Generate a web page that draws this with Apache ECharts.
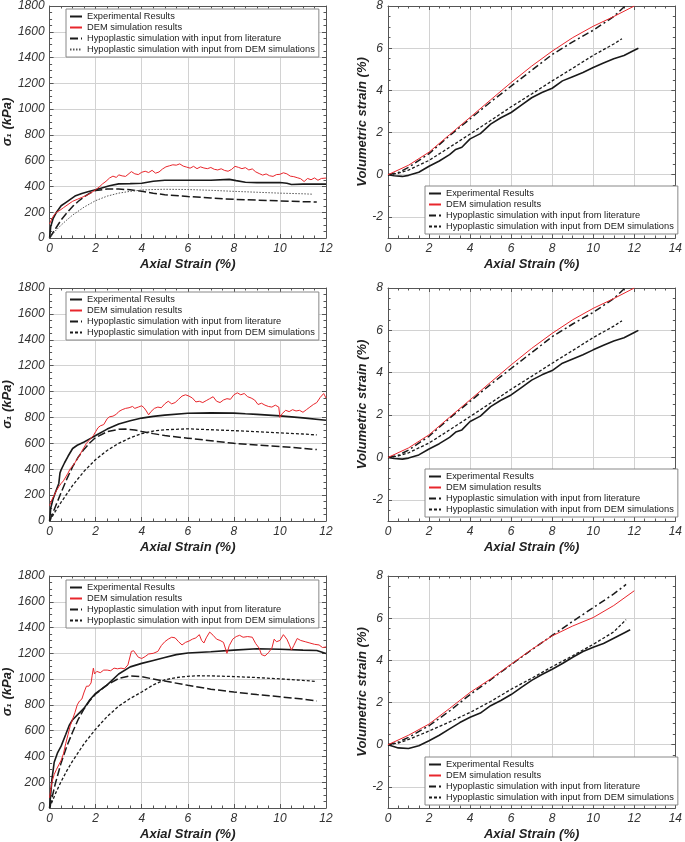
<!DOCTYPE html>
<html><head><meta charset="utf-8">
<script src="https://cdn.jsdelivr.net/npm/echarts@6/dist/echarts.min.js"></script>
<style>html,body{margin:0;padding:0;background:#fff}#c{width:685px;height:842px}</style>
</head><body><div id="c"></div>
<script>
// ---------- tick labels ----------
const sigmaTicks = [0,200,400,600,800,1000,1200,1400,1600,1800];
const volTicks = [-2,0,2,4,6,8];
const legendNames = ['Experimental Results','DEM simulation results','Hypoplastic simulation with input from literature','Hypoplastic simulation with input from DEM simulations'];

// ---------- Row 1: sigma1 vs axial strain ----------
const exp1 = [[0,0],[0.05,90],[0.15,150],[0.3,200],[0.5,250],[0.7,275],[0.9,300],[1.1,325],[1.4,345],[1.7,360],[2.0,375],[2.3,390],[2.6,405],[3.0,420],[3.5,422],[4.0,425],[4.5,440],[5.0,448],[6.0,448],[7.0,448],[7.8,455],[8.1,445],[8.5,432],[9.0,430],[10.0,430],[10.3,425],[10.5,415],[11.0,418],[12.0,418]];
const dem1 = [[0,110],[0.1,150],[0.2,180],[0.3,200],[0.45,215],[0.6,235],[0.8,260],[1.0,285],[1.2,300],[1.4,315],[1.6,330],[1.8,350],[2.0,375],[2.15,395],[2.3,420],[2.45,440],[2.6,465],[2.75,480],[2.9,470],[3.0,490],[3.15,482],[3.3,478],[3.45,500],[3.55,515],[3.7,498],[3.85,492],[4.0,510],[4.15,518],[4.3,508],[4.45,525],[4.6,503],[4.75,512],[4.9,535],[5.05,552],[5.2,560],[5.35,568],[5.5,565],[5.65,575],[5.8,558],[5.95,550],[6.1,542],[6.25,556],[6.4,538],[6.55,552],[6.7,543],[6.85,538],[7.0,547],[7.15,533],[7.3,528],[7.45,537],[7.6,524],[7.75,518],[7.9,532],[8.05,556],[8.2,548],[8.35,538],[8.5,546],[8.65,528],[8.8,536],[8.95,513],[9.1,500],[9.25,488],[9.4,497],[9.55,483],[9.7,478],[9.85,492],[10.0,494],[10.15,506],[10.3,498],[10.45,480],[10.6,476],[10.75,468],[10.9,460],[11.05,438],[11.2,462],[11.35,452],[11.5,466],[11.65,448],[11.8,462],[12.0,465]];
const lit1 = [[0,0],[0.25,70],[0.5,140],[0.75,195],[1.0,245],[1.25,285],[1.5,320],[1.75,348],[2.0,368],[2.5,380],[3.0,380],[3.5,374],[4.0,363],[4.5,348],[5.0,336],[6.0,322],[7.0,310],[8.0,300],[9.0,294],[10.0,288],[11.0,282],[11.6,279]];
const din1 = [[0,0],[0.25,55],[0.5,100],[0.75,140],[1.0,178],[1.5,240],[2.0,290],[2.5,325],[3.0,348],[3.5,362],[4.0,372],[4.5,376],[5.0,378],[6.0,376],[7.0,370],[8.0,362],[9.0,355],[10.0,348],[11.0,343],[11.4,340]];

// ---------- Row 1: volumetric strain ----------
const vExp1 = [[0,0],[0.3,-0.05],[0.7,-0.08],[1.0,-0.03],[1.5,0.12],[2.0,0.4],[2.5,0.65],[3.0,0.95],[3.3,1.2],[3.6,1.3],[4.0,1.7],[4.5,1.95],[5.0,2.4],[5.5,2.7],[6.0,2.95],[6.5,3.3],[7.0,3.65],[7.5,3.9],[8.0,4.1],[8.5,4.45],[9.0,4.65],[9.5,4.85],[10.0,5.08],[10.5,5.3],[11.0,5.5],[11.5,5.65],[12.0,5.9],[12.2,6.0]];
const vDem1 = [[0,0],[1.0,0.45],[2.0,1.07],[3.0,1.9],[4.0,2.72],[5.0,3.55],[6.0,4.37],[7.0,5.15],[8.0,5.86],[9.0,6.5],[10.0,7.04],[11.0,7.5],[12.0,8.0]];
const vLit1 = [[0,0],[0.5,0.1],[1.0,0.35],[2.0,1.0],[3.0,1.85],[4.0,2.65],[5.0,3.45],[6.0,4.2],[7.0,4.95],[8.0,5.7],[9.0,6.3],[10.0,6.85],[11.0,7.5],[11.55,8.0]];
const vDin1 = [[0,0],[0.5,0.07],[1.0,0.22],[2.0,0.68],[3.0,1.3],[4.0,1.93],[5.0,2.57],[6.0,3.22],[7.0,3.83],[8.0,4.45],[9.0,5.05],[10.0,5.66],[11.0,6.2],[11.4,6.45]];

// ---------- Row 2: sigma1 ----------
const exp2 = [[0,0],[0.05,100],[0.15,170],[0.25,220],[0.4,290],[0.45,370],[0.5,395],[0.65,450],[0.8,500],[1.0,560],[1.2,585],[1.5,610],[1.8,640],[2.0,660],[2.5,710],[3.0,750],[3.5,775],[4.0,795],[4.5,808],[5.0,818],[6.0,832],[7.0,835],[8.0,833],[8.5,828],[9.0,824],[10.0,812],[11.0,797],[12.0,778]];
const dem2 = [[0,120],[0.1,165],[0.2,200],[0.3,235],[0.4,265],[0.5,290],[0.6,310],[0.7,340],[0.8,370],[0.9,405],[1.0,425],[1.1,450],[1.2,480],[1.3,505],[1.4,540],[1.5,570],[1.6,600],[1.7,620],[1.8,640],[1.9,660],[2.0,690],[2.1,720],[2.2,735],[2.35,745],[2.5,790],[2.6,805],[2.75,810],[2.9,825],[3.0,845],[3.15,860],[3.3,870],[3.45,875],[3.6,885],[3.7,870],[3.85,880],[4.0,890],[4.1,875],[4.2,850],[4.3,820],[4.4,845],[4.55,870],[4.7,880],[4.85,875],[5.0,905],[5.15,925],[5.3,905],[5.45,915],[5.6,940],[5.75,965],[5.9,975],[6.05,965],[6.2,950],[6.35,920],[6.5,925],[6.65,915],[6.8,930],[6.95,945],[7.1,960],[7.25,925],[7.4,915],[7.55,935],[7.7,945],[7.85,940],[8.0,975],[8.15,990],[8.3,975],[8.45,985],[8.6,960],[8.75,950],[8.9,935],[9.05,900],[9.2,910],[9.35,895],[9.5,885],[9.65,880],[9.8,895],[9.95,880],[10.0,800],[10.1,830],[10.25,855],[10.4,845],[10.55,860],[10.7,850],[10.85,855],[11.0,840],[11.15,860],[11.3,880],[11.45,900],[11.6,915],[11.75,955],[11.9,985],[12.0,950]];
const lit2 = [[0,0],[0.25,110],[0.5,220],[0.75,325],[1.0,420],[1.25,495],[1.5,555],[1.75,605],[2.0,645],[2.5,690],[3.0,708],[3.3,710],[3.7,703],[4.0,692],[4.5,675],[5.0,660],[6.0,640],[7.0,620],[8.0,600],[9.0,587],[10.0,575],[11.0,562],[11.6,552]];
const din2 = [[0,0],[0.25,75],[0.5,145],[0.75,210],[1.0,275],[1.5,385],[2.0,475],[2.5,545],[3.0,600],[3.5,642],[4.0,675],[4.5,695],[5.0,705],[6.0,712],[7.0,705],[8.0,698],[9.0,690],[10.0,681],[11.0,672],[11.6,665]];

// ---------- Row 2: volumetric strain ----------
const vExp2 = [[0,0],[0.3,-0.05],[0.7,-0.08],[1.0,-0.03],[1.5,0.12],[2.0,0.4],[2.5,0.65],[3.0,0.95],[3.3,1.2],[3.6,1.3],[4.0,1.7],[4.5,1.95],[5.0,2.4],[5.5,2.7],[6.0,2.95],[6.5,3.3],[7.0,3.65],[7.5,3.9],[8.0,4.1],[8.5,4.45],[9.0,4.65],[9.5,4.85],[10.0,5.08],[10.5,5.3],[11.0,5.5],[11.5,5.65],[12.0,5.9],[12.2,6.0]];
const vDem2 = [[0,0],[1.0,0.45],[2.0,1.07],[3.0,1.9],[4.0,2.72],[5.0,3.55],[6.0,4.37],[7.0,5.15],[8.0,5.86],[9.0,6.5],[10.0,7.04],[11.0,7.5],[12.0,8.0]];
const vLit2 = [[0,0],[0.5,0.1],[1.0,0.35],[2.0,1.0],[3.0,1.85],[4.0,2.65],[5.0,3.45],[6.0,4.2],[7.0,4.95],[8.0,5.7],[9.0,6.3],[10.0,6.85],[11.0,7.5],[11.55,8.0]];
const vDin2 = [[0,0],[0.5,0.07],[1.0,0.22],[2.0,0.68],[3.0,1.3],[4.0,1.93],[5.0,2.57],[6.0,3.22],[7.0,3.83],[8.0,4.45],[9.0,5.05],[10.0,5.66],[11.0,6.2],[11.4,6.45]];

// ---------- Row 3: sigma1 ----------
const exp3 = [[0,0],[0.1,220],[0.2,355],[0.35,430],[0.5,480],[0.7,570],[0.85,640],[1.0,685],[1.25,730],[1.5,775],[1.75,840],[2.0,890],[2.5,955],[3.0,1040],[3.5,1095],[4.0,1122],[4.5,1145],[5.0,1168],[5.5,1190],[6.0,1203],[7.0,1212],[8.0,1225],[9.0,1235],[10.0,1232],[11.0,1225],[11.6,1222],[12.0,1198]];
const dem3 = [[0,80],[0.1,200],[0.2,260],[0.3,300],[0.4,335],[0.5,370],[0.6,420],[0.7,500],[0.8,570],[0.9,640],[1.0,690],[1.1,740],[1.2,800],[1.3,830],[1.4,845],[1.5,900],[1.6,945],[1.7,945],[1.8,970],[1.85,1030],[1.9,1085],[1.95,1040],[2.05,1060],[2.2,1050],[2.35,1070],[2.5,1070],[2.65,1065],[2.8,1085],[2.95,1080],[3.1,1085],[3.25,1080],[3.4,1110],[3.55,1215],[3.65,1220],[3.75,1195],[3.85,1170],[4.0,1160],[4.15,1175],[4.3,1195],[4.5,1200],[4.7,1215],[4.85,1260],[5.0,1290],[5.15,1310],[5.3,1325],[5.45,1320],[5.6,1290],[5.75,1265],[5.9,1285],[6.05,1295],[6.2,1310],[6.35,1320],[6.5,1345],[6.6,1300],[6.7,1280],[6.8,1320],[6.95,1365],[7.1,1340],[7.25,1310],[7.4,1300],[7.55,1285],[7.7,1200],[7.8,1260],[7.95,1310],[8.1,1330],[8.25,1340],[8.4,1325],[8.6,1330],[8.8,1325],[8.95,1275],[9.1,1240],[9.2,1190],[9.35,1180],[9.5,1205],[9.65,1240],[9.75,1310],[9.85,1290],[10.0,1300],[10.15,1345],[10.3,1310],[10.4,1270],[10.5,1225],[10.6,1260],[10.75,1315],[10.9,1300],[11.1,1290],[11.3,1280],[11.5,1270],[11.7,1265],[11.85,1245],[12.0,1250]];
const lit3 = [[0,0],[0.25,190],[0.5,350],[0.75,480],[1.0,590],[1.25,690],[1.5,770],[1.75,835],[2.0,885],[2.5,955],[3.0,1005],[3.5,1025],[4.0,1020],[4.5,1000],[5.0,985],[6.0,952],[7.0,922],[8.0,900],[9.0,880],[10.0,863],[11.0,845],[11.6,830]];
const din3 = [[0,0],[0.25,110],[0.5,205],[0.75,290],[1.0,365],[1.5,500],[2.0,612],[2.5,710],[3.0,790],[3.5,850],[4.0,900],[4.5,955],[5.0,995],[5.5,1012],[6.0,1022],[6.5,1026],[7.0,1025],[8.0,1020],[9.0,1012],[10.0,1002],[11.0,990],[11.6,982]];

// ---------- Row 3: volumetric strain ----------
const vExp3 = [[0,0],[0.5,-0.15],[1.0,-0.18],[1.5,-0.05],[2.0,0.19],[2.5,0.45],[3.0,0.75],[3.5,1.05],[4.0,1.3],[4.5,1.5],[5.0,1.85],[5.5,2.1],[6.0,2.38],[6.5,2.72],[7.0,3.05],[7.5,3.33],[8.0,3.58],[8.5,3.85],[9.0,4.15],[9.5,4.42],[10.0,4.62],[10.5,4.8],[11.0,5.05],[11.5,5.3],[11.8,5.45]];
const vDem3 = [[0,0],[1.0,0.45],[2.0,0.98],[3.0,1.72],[4.0,2.48],[5.0,3.12],[6.0,3.82],[7.0,4.52],[8.0,5.16],[9.0,5.63],[10.0,6.03],[11.0,6.6],[12.0,7.3]];
const vLit3 = [[0,0],[0.5,0.12],[1.0,0.35],[2.0,0.9],[3.0,1.6],[4.0,2.38],[5.0,3.08],[6.0,3.8],[7.0,4.5],[8.0,5.18],[9.0,5.85],[10.0,6.5],[11.0,7.15],[11.6,7.6]];
const vDin3 = [[0,0],[0.5,0.08],[1.0,0.25],[2.0,0.65],[3.0,1.08],[4.0,1.53],[5.0,2.05],[6.0,2.63],[7.0,3.15],[8.0,3.7],[9.0,4.22],[10.0,4.76],[11.0,5.35],[11.6,5.93]];

// ---------- styling / layout ----------
const FONT = '"Liberation Sans", Arial, sans-serif';
const AX = '#555';
const GRIDC = '#d2d2d2';
const rowsTop = [5, 288, 576];
const panels = [
  {kind:'s', row:0, data:[exp1,dem1,lit1,din1]},
  {kind:'v', row:0, data:[vExp1,vDem1,vLit1,vDin1]},
  {kind:'s', row:1, data:[exp2,dem2,lit2,din2]},
  {kind:'v', row:1, data:[vExp2,vDem2,vLit2,vDin2]},
  {kind:'s', row:2, data:[exp3,dem3,lit3,din3]},
  {kind:'v', row:2, data:[vExp3,vDem3,vLit3,vDin3]}
];

const grid = [], xAxis = [], yAxis = [], series = [], legend = [];
const labelStyle = {fontStyle:'italic', fontSize:12, color:'#333', fontFamily:FONT, formatter: v => String(v)};
const nameStyle = {fontWeight:'bold', fontStyle:'italic', fontSize:13, color:'#222', fontFamily:FONT};

panels.forEach((p, i) => {
  const isS = p.kind === 's';
  const top = rowsTop[p.row];
  grid.push(isS ? {left:49, top:top, width:277, height:233} : {left:388, top:top, width:292, height:233});
  const xMax = isS ? 12 : 14;
  const xBase = {type:'value', gridIndex:i, min:0, max:xMax, interval:2,
    axisLine:{show:true, onZero:false, lineStyle:{color:AX, width:1}},
    axisTick:{show:true, inside:true, length:4, lineStyle:{color:AX}},
    minorTick:{show:true, splitNumber:4, length:2.5, lineStyle:{color:AX}},
    minorSplitLine:{show:false}};
  xAxis.push(Object.assign({}, xBase, {position:'bottom',
    axisLabel:Object.assign({margin:5}, labelStyle),
    splitLine:{show:true, lineStyle:{color:GRIDC, width:1}},
    name:'Axial Strain (%)', nameLocation:'middle', nameGap:20, nameTextStyle:nameStyle}));
  xAxis.push(Object.assign({}, xBase, {position:'top', axisLabel:{show:false}, splitLine:{show:false}}));

  let yBase;
  if (isS) {
    yBase = {type:'value', gridIndex:i, min:0, max:1800, interval:200,
      axisLine:{show:true, onZero:false, lineStyle:{color:AX}},
      axisTick:{show:true, inside:true, length:4, lineStyle:{color:AX}},
      minorTick:{show:true, splitNumber:4, length:2.5, lineStyle:{color:AX}}};
    yAxis.push(Object.assign({}, yBase, {position:'left',
      axisLabel:Object.assign({margin:5, customValues:sigmaTicks}, labelStyle),
      splitLine:{show:true, lineStyle:{color:GRIDC}},
      name:'σ₁ (kPa)', nameLocation:'middle', nameGap:33, nameTextStyle:nameStyle}));
  } else {
    yBase = {type:'value', gridIndex:i, min:-3, max:8, splitNumber:5,
      axisLine:{show:true, onZero:false, lineStyle:{color:AX}},
      axisTick:{show:true, inside:true, length:4, customValues:volTicks, lineStyle:{color:AX}},
      minorTick:{show:true, splitNumber:4, length:2.5, lineStyle:{color:AX}}};
    yAxis.push(Object.assign({}, yBase, {position:'left',
      axisLabel:Object.assign({margin:5, customValues:volTicks}, labelStyle),
      splitLine:{show:true, lineStyle:{color:GRIDC}},
      name:'Volumetric strain (%)', nameLocation:'middle', nameGap:17, nameTextStyle:nameStyle}));
  }
  yAxis.push(Object.assign({}, yBase, {position:'right', axisLabel:{show:false}, splitLine:{show:false}}));

  const suffix = '#' + i;
  const styles = [
    {color:'#1a1a1a', width:1.6, type:'solid'},
    {color:'#e8262c', width:1, type:'solid'},
    {color:'#1a1a1a', width:1.5, type: isS ? [8,3] : [7,3,2,3]},
    (i === 0) ? {color:'#555', width:1, type:[1.5,1.5]} : {color:'#1a1a1a', width:1.3, type:[3,2]}
  ];
  p.data.forEach((d, k) => {
    series.push({type:'line', name:legendNames[k] + suffix, xAxisIndex:2*i, yAxisIndex:2*i,
      data:d, symbol:'none', showSymbol:false, silent:true, animation:false,
      lineStyle:styles[k], itemStyle:{color:styles[k].color}, z: k===1 ? 3 : 2});
  });
  legend.push({
    data: legendNames.map(n => n + suffix),
    formatter: n => n.split('#')[0],
    orient:'vertical',
    left: isS ? 66 : 425,
    top: isS ? top + 4 : top + 181,
    backgroundColor:'#fff', borderColor:'#888', borderWidth:1,
    padding:[2,4,2,3], itemGap:0, itemWidth:12, itemHeight:10,
    selectedMode:false,
    itemStyle:{color:'rgba(0,0,0,0)', borderColor:'rgba(0,0,0,0)', borderWidth:0},
    textStyle:{fontSize:9.3, color:'#222', fontFamily:FONT, lineHeight:11}
  });
});

const chart = echarts.init(document.getElementById('c'), null, {renderer:'canvas'});
chart.setOption({animation:false, backgroundColor:'#fff', grid, xAxis, yAxis, series, legend});
</script></body></html>
